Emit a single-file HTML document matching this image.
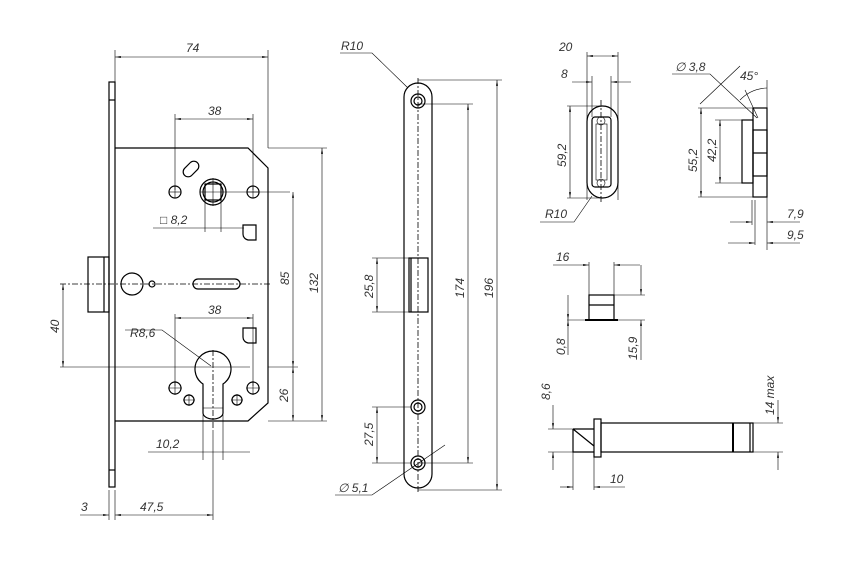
<!DOCTYPE html>
<html><head><meta charset="utf-8"><style>
html,body{margin:0;padding:0;background:#fff;}
svg{display:block}
text{font-family:"Liberation Sans",sans-serif;font-style:italic;font-size:12px;fill:#333;}
.l{stroke:#000;stroke-width:1.2;fill:none}
.t{stroke:#000;stroke-width:0.6;fill:none}
.d{stroke:#000;stroke-width:0.8;fill:none;stroke-dasharray:6 2 2 2}
</style></head><body>
<svg width="854" height="575" viewBox="0 0 854 575" xmlns="http://www.w3.org/2000/svg">
<defs>
<marker id="a" viewBox="0 0 10 4" refX="10" refY="2" markerWidth="10" markerHeight="4" orient="auto-start-reverse"><path d="M0,0 L10,2 L0,4z" fill="#333"/></marker>
<pattern id="h" width="4" height="4" patternUnits="userSpaceOnUse"><path d="M0,0L4,4M4,0L0,4" stroke="#000" stroke-width="0.6"/></pattern>
</defs>

<!-- MAIN LOCK -->
<rect class="l" x="109" y="82" width="6" height="405"/>
<line class="l" x1="109" y1="100" x2="115" y2="100"/><line class="l" x1="109" y1="470" x2="115" y2="470"/>
<path class="l" d="M115,148 H248 L268,168 V403 L248,421 H115"/>
<rect class="l" x="88" y="257" width="21" height="55"/>
<line class="l" x1="104" y1="257" x2="104" y2="312"/>
<line class="d" x1="60" y1="284" x2="270" y2="284"/>
<!-- spindle -->
<circle class="l" cx="213" cy="192" r="13"/><circle class="l" cx="213" cy="192" r="10"/>
<rect class="l" x="205" y="184" width="16" height="16"/>
<line class="t" x1="200" y1="192" x2="290" y2="192"/><line class="t" x1="213" y1="178" x2="213" y2="206"/>
<circle class="l" cx="175" cy="192" r="6"/><line class="t" x1="169" y1="192" x2="181" y2="192"/><line class="t" x1="175" y1="186" x2="175" y2="198"/>
<circle class="l" cx="253" cy="192" r="6"/><line class="t" x1="247" y1="192" x2="259" y2="192"/><line class="t" x1="253" y1="186" x2="253" y2="198"/>
<rect class="l" x="182" y="164" width="18" height="10" rx="5" transform="rotate(-45 191 169)"/>
<path class="l" d="M243,225 H256 V240 H248 A6,6 0 0 1 243,234 Z"/>
<path class="l" d="M243,328 H256 V343 H248 A6,6 0 0 1 243,337 Z"/>
<!-- mid -->
<circle class="l" cx="132" cy="284" r="11"/><circle class="l" cx="152" cy="284" r="3"/>
<rect class="l" x="193" y="279" width="47" height="10" rx="5"/>
<!-- cylinder -->
<path class="l" d="M203,384 A18,18 0 1 1 223,384 V413 A10,6 0 0 1 203,413 Z"/>
<line class="d" x1="213" y1="350" x2="213" y2="430"/>
<line class="t" x1="203" y1="408" x2="223" y2="408"/>
<g class="l">
<circle cx="175" cy="388" r="6"/><circle cx="253" cy="388" r="6"/>
<circle cx="189" cy="400" r="5"/><circle cx="237" cy="400" r="5"/>
</g>
<g class="t">
<path d="M168,388h14M175,381v14M246,388h14M253,381v14M183,400h12M189,394v12M231,400h12M237,394v12"/>
</g>
<!-- dims main -->
<g class="t">
<path d="M115,50V82M268,50V148"/>
<line x1="115" y1="57" x2="268" y2="57" marker-start="url(#a)" marker-end="url(#a)"/>
<path d="M175,114V190M253,114V190"/>
<line x1="175" y1="119" x2="253" y2="119" marker-start="url(#a)" marker-end="url(#a)"/>
<path d="M175,314V386M253,314V386"/>
<line x1="175" y1="318" x2="253" y2="318" marker-start="url(#a)" marker-end="url(#a)"/>
<path d="M268,148H327M268,421H327M268,367H298M60,367H250"/>
<line x1="322" y1="148" x2="322" y2="421" marker-start="url(#a)" marker-end="url(#a)"/>
<line x1="293" y1="192" x2="293" y2="367" marker-start="url(#a)" marker-end="url(#a)"/>
<line x1="293" y1="367" x2="293" y2="421" marker-start="url(#a)" marker-end="url(#a)"/>
<line x1="63" y1="284" x2="63" y2="367" marker-start="url(#a)" marker-end="url(#a)"/>
<path d="M205,200V232M221,200V232M153,228H244"/>
<path d="M203,415V460M223,415V460M148,452H250"/>
<path d="M213,430V520"/>
<line x1="115" y1="515" x2="213" y2="515" marker-start="url(#a)" marker-end="url(#a)"/>
<line x1="80" y1="515" x2="109" y2="515" marker-end="url(#a)"/>
<path d="M109,490V520M115,490V520"/>
<path d="M125,330H162L211,366"/>
</g>
<text x="186" y="52">74</text><text x="208" y="115">38</text><text x="208" y="314">38</text>
<text x="160" y="224">□ 8,2</text><text x="156" y="448">10,2</text><text x="81" y="511">3</text><text x="140" y="511">47,5</text>
<text x="130" y="337">R8,6</text>
<text transform="translate(289,285) rotate(-90)">85</text>
<text transform="translate(318,293) rotate(-90)">132</text>
<text transform="translate(288,402) rotate(-90)">26</text>
<text transform="translate(59,333) rotate(-90)">40</text>

<!-- FACEPLATE -->
<path class="l" d="M404,97 A14,14 0 0 1 432,97 V474 A14,14 0 0 1 404,474 Z" stroke="#777"/>
<line class="d" x1="418" y1="78" x2="418" y2="494"/>
<circle class="l" cx="418" cy="101" r="7"/><circle class="l" cx="418" cy="101" r="4"/>
<circle class="l" cx="418" cy="407" r="7"/><circle class="l" cx="418" cy="407" r="4"/>
<circle class="l" cx="418" cy="463" r="7"/><circle class="l" cx="418" cy="463" r="4"/>
<rect class="l" x="409" y="258" width="19" height="54"/><line class="l" x1="411" y1="258" x2="411" y2="312"/>
<g class="t">
<path d="M418,80H502M418,490H502M418,104H473M418,463H473"/>
<line x1="497" y1="80" x2="497" y2="490" marker-start="url(#a)" marker-end="url(#a)"/>
<line x1="468" y1="104" x2="468" y2="463" marker-start="url(#a)" marker-end="url(#a)"/>
<path d="M372,258H409M372,312H409M372,407H411M372,463H411"/>
<line x1="377" y1="258" x2="377" y2="312" marker-start="url(#a)" marker-end="url(#a)"/>
<line x1="377" y1="407" x2="377" y2="463" marker-start="url(#a)" marker-end="url(#a)"/>
<path d="M340,53H372L408,88"/>
<path d="M335,495H372L445,445"/>
</g>
<text x="341" y="50">R10</text><text x="338" y="492">∅ 5,1</text>
<text transform="translate(373,298) rotate(-90)">25,8</text>
<text transform="translate(373,446) rotate(-90)">27,5</text>
<text transform="translate(464,298) rotate(-90)">174</text>
<text transform="translate(493,298) rotate(-90)">196</text>

<!-- STRIKE FRONT -->
<rect class="l" x="587" y="106" width="31" height="92" rx="15.5"/>
<rect class="l" x="592" y="117" width="19" height="70" rx="3"/>
<rect class="t" x="596" y="124" width="11" height="56"/>
<circle class="t" cx="601" cy="121" r="4"/><circle class="t" cx="601" cy="183" r="4"/>
<line class="d" x1="601" y1="100" x2="601" y2="204"/>
<g class="t">
<path d="M587,52V200M618,52V200M592,76V117M611,76V117M567,106H600M567,198H600"/>
<line x1="587" y1="56" x2="618" y2="56" marker-start="url(#a)" marker-end="url(#a)"/>
<line x1="572" y1="82" x2="592" y2="82" marker-end="url(#a)"/><line x1="631" y1="82" x2="611" y2="82" marker-end="url(#a)"/>
<line x1="570" y1="106" x2="570" y2="198" marker-start="url(#a)" marker-end="url(#a)"/>
<path d="M540,222H574L592,196"/>
</g>
<text x="559" y="51">20</text><text x="561" y="78">8</text><text x="545" y="218">R10</text>
<text transform="translate(566,167) rotate(-90)">59,2</text>

<!-- STRIKE SIDE -->
<rect x="753" y="108" width="14" height="89" fill="url(#h)" class="l"/>
<rect x="742" y="120" width="11" height="63" fill="url(#h)" class="l"/>
<rect x="753" y="130" width="14" height="46" fill="#fff" class="l"/>
<line class="l" x1="753" y1="153" x2="767" y2="153"/>
<g class="t">
<path d="M698,108H753M698,197H753M715,120H742M715,183H742"/>
<line x1="701" y1="108" x2="701" y2="197" marker-start="url(#a)" marker-end="url(#a)"/>
<line x1="720" y1="120" x2="720" y2="183" marker-start="url(#a)" marker-end="url(#a)"/>
<path d="M672,74H710L757,118M700,104L740,66M745,90L758,118M767,80V250M755,200V245M752,200V225"/>
<path d="M740,100 A40,40 0 0 1 767,88"/>
<line x1="730" y1="222" x2="752" y2="222" marker-end="url(#a)"/><line x1="800" y1="222" x2="767" y2="222" marker-end="url(#a)"/>
<line x1="728" y1="243" x2="755" y2="243" marker-end="url(#a)"/><line x1="800" y1="243" x2="767" y2="243" marker-end="url(#a)"/>
</g>
<text x="675" y="71">∅ 3,8</text><text x="740" y="80">45°</text>
<text x="787" y="218">7,9</text><text x="787" y="239">9,5</text>
<text transform="translate(697,172) rotate(-90)">55,2</text>
<text transform="translate(716,162) rotate(-90)">42,2</text>

<!-- 16 PIECE -->
<rect class="l" x="589" y="295" width="25" height="25"/>
<line class="l" x1="589" y1="305" x2="614" y2="305"/>
<line x1="585" y1="320" x2="618" y2="320" stroke="#000" stroke-width="2"/>
<g class="t">
<path d="M589,262V320M614,262V320M614,295H645M614,320H645M567,320H589"/>
<line x1="553" y1="265" x2="589" y2="265" marker-end="url(#a)"/><line x1="640" y1="265" x2="614" y2="265" marker-end="url(#a)"/>
<line x1="568" y1="295" x2="568" y2="320" marker-end="url(#a)"/><line x1="568" y1="355" x2="568" y2="320" marker-end="url(#a)"/>
<line x1="641" y1="265" x2="641" y2="295" marker-end="url(#a)"/><line x1="641" y1="360" x2="641" y2="320" marker-end="url(#a)"/>
</g>
<text x="556" y="261">16</text>
<text transform="translate(565,355) rotate(-90)">0,8</text>
<text transform="translate(637,360) rotate(-90)">15,9</text>

<!-- PIN -->
<rect class="l" x="594" y="419" width="7" height="38"/>
<rect class="l" x="601" y="423" width="152" height="29"/>
<line x1="733" y1="423" x2="733" y2="452" stroke="#000" stroke-width="2"/>
<line class="l" x1="750" y1="423" x2="750" y2="452"/>
<path class="l" d="M573,429H594M573,429V452H594M573,429L594,446"/>
<g class="t">
<path d="M548,429H573M548,452H573M753,423H783M753,452H783M573,452V490M594,457V490"/>
<line x1="553" y1="405" x2="553" y2="429" marker-end="url(#a)"/><line x1="553" y1="470" x2="553" y2="452" marker-end="url(#a)"/>
<line x1="778" y1="400" x2="778" y2="423" marker-end="url(#a)"/><line x1="778" y1="470" x2="778" y2="452" marker-end="url(#a)"/>
<line x1="560" y1="487" x2="573" y2="487" marker-end="url(#a)"/><line x1="625" y1="487" x2="594" y2="487" marker-end="url(#a)"/>
</g>
<text x="610" y="483">10</text>
<text transform="translate(550,400) rotate(-90)">8,6</text>
<text transform="translate(774,415) rotate(-90)">14 max</text>
</svg>
</body></html>
